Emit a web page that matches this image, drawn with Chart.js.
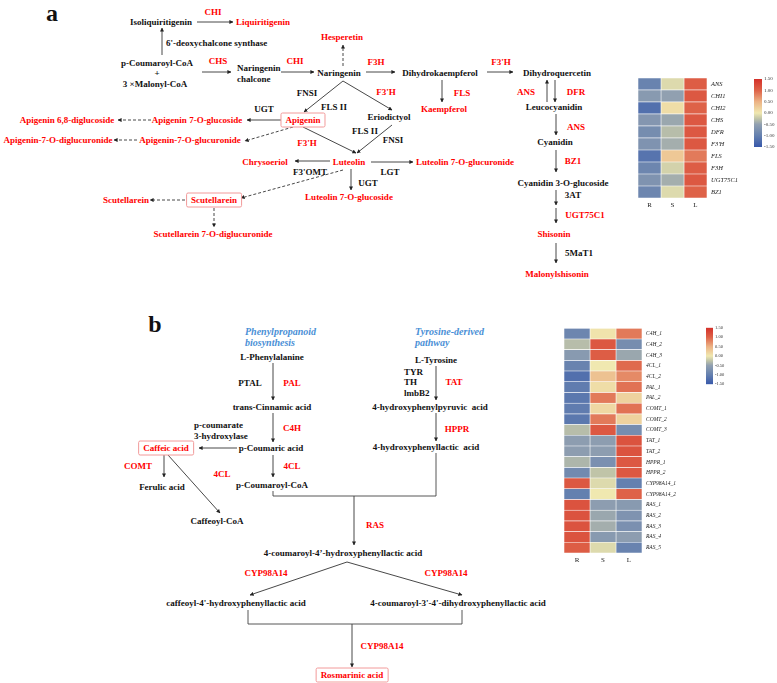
<!DOCTYPE html>
<html>
<head>
<meta charset="utf-8">
<script src="https://cdn.jsdelivr.net/npm/chart.js@4.4.1/dist/chart.umd.min.js"></script>
<style>
html, body { margin: 0; padding: 0; background: #fff; }
#fig { position: relative; width: 777px; height: 683px; overflow: hidden;
       font-family: "Liberation Serif", "Times New Roman", serif; font-weight: bold; font-size: 9px; color: #111; }
.t { position: absolute; white-space: pre; transform: translate(-50%, -50%); line-height: 1; }
.l { transform: translate(0, -50%); }
.r { color: #f00; }
.box { border: 1px solid #f29a9a; border-radius: 2px; padding: 2px 4px; background: #fff; }
.blue { color: #4a8fd6; font-style: italic; font-size: 10px; }
.big { font-size: 24px; line-height: 1; }
canvas { position: absolute; }
svg { position: absolute; left: 0; top: 0; }
</style>
</head>
<body>
<div id="fig">
  <svg id="arrows" width="777" height="683"></svg>
  <canvas id="heatA" width="115" height="142" style="left:638px;top:70px"></canvas>
  <canvas id="barA" width="30" height="78" style="left:754px;top:74px"></canvas>
  <canvas id="heatB" width="125" height="246" style="left:564px;top:321px"></canvas>
  <canvas id="barB" width="28" height="66" style="left:706px;top:323px"></canvas>
</div>
<script>
// colonnes des heatmaps
const sampleCols = ['R', 'S', 'L'];

// heatmap a : genes flavonoides (z-score par ligne)
const genesA = ['ANS', 'CHI1', 'CHI2', 'CHS', 'DFR', "F3'H", 'FLS', 'F3H', 'UGT75C1', 'BZ1'];
const zA_R = [-0.95, -0.6, -1.2, -0.65, -0.8, -0.7, -1.15, -0.9, -0.7, -0.9];
const zA_S = [-0.1, -0.5, 0.1, -0.45, -0.3, -0.4, 0.3, -0.15, -0.4, -0.1];
const zA_L = [1.05, 1.1, 1.0, 1.1, 1.1, 1.1, 0.85, 1.05, 1.1, 1.0];

// heatmap b : voie de l'acide rosmarinique
const genesB = ['C4H_1', 'C4H_2', 'C4H_3', '4CL_1', '4CL_2', 'PAL_1', 'PAL_2', 'COMT_1', 'COMT_2', 'COMT_3',
                'TAT_1', 'TAT_2', 'HPPR_1', 'HPPR_2', 'CYP98A14_1', 'CYP98A14_2',
                'RAS_1', 'RAS_2', 'RAS_3', 'RAS_4', 'RAS_5'];
const zB_R = [-0.9, -0.3, -0.6, -0.95, -1.2, -1.05, -1.1, -1.05, -1.1, -0.3,
              -0.55, -0.55, -0.35, -0.85, 1.1, -1.0, 1.15, 1.15, 1.15, 1.15, 1.05];
const zB_S = [0.05, 1.1, 1.05, 0.0, 0.35, 0.1, 0.85, 0.15, 0.85, 1.1,
              -0.55, -0.55, -0.75, -0.25, -0.1, 0.0, -0.55, -0.45, -0.4, -0.6, -0.1];
const zB_L = [0.85, -0.8, -0.45, 0.95, 0.75, 0.9, 0.2, 0.9, 0.2, -0.8,
              1.15, 1.15, 1.1, 1.1, -1.0, 1.0, -0.6, -0.7, -0.75, -0.55, -0.95];

// echelle de couleur
const barMin = -1.5, barMax = 1.5;
const barTicks = [1.5, 1.0, 0.5, 0.0, -0.5, -1.0, -1.5];

const colorStops = [
  [-1.5, [55, 88, 170]],
  [-1.0, [100, 128, 175]],
  [-0.5, [145, 160, 176]],
  [-0.25, [192, 196, 168]],
  [0.0, [240, 232, 176]],
  [0.5, [236, 178, 132]],
  [1.0, [222, 98, 72]],
  [1.5, [212, 48, 42]]
];

function zColor(z) {
  z = Math.max(barMin, Math.min(barMax, z));
  for (let i = 1; i < colorStops.length; i++) {
    const [z1, c1] = colorStops[i];
    const [z0, c0] = colorStops[i - 1];
    if (z <= z1) {
      const f = (z - z0) / (z1 - z0);
      const c = c0.map((v, k) => Math.round(v + (c1[k] - v) * f));
      return `rgb(${c[0]},${c[1]},${c[2]})`;
    }
  }
  return 'rgb(212,48,42)';
}

// --- textes du schema ---
const texts = [
  ['a', 52, 13, 'big'],
  ['CHI', 213, 12, 'r'],
  ['Isoliquiritigenin', 161, 22, ''],
  ['Liquiritigenin', 263, 22, 'r'],
  ["6'-deoxychalcone synthase", 166, 43, 'l'],
  ['p-Coumaroyl-CoA', 157, 63, ''],
  ['+', 157, 73, ''],
  ['3 ×Malonyl-CoA', 155, 84, ''],
  ['CHS', 218, 61, 'r'],
  ['Naringenin', 237, 68, 'l'],
  ['chalcone', 237, 79, 'l'],
  ['CHI', 295, 61, 'r'],
  ['Naringenin', 339, 73, ''],
  ['Hesperetin', 342, 37, 'r'],
  ['F3H', 376, 62, 'r'],
  ['Dihydrokaempferol', 440, 73, ''],
  ['FLS', 462, 93, 'r'],
  ['Kaempferol', 444, 109, 'r'],
  ["F3'H", 501, 62, 'r'],
  ['Dihydroquercetin', 557, 73, ''],
  ['ANS', 526, 92, 'r'],
  ['DFR', 576, 92, 'r'],
  ['Leucocyanidin', 554, 107, ''],
  ['ANS', 576, 127, 'r'],
  ['Cyanidin', 555, 142, ''],
  ['BZ1', 573, 161, 'r'],
  ['Cyanidin 3-O-glucoside', 563, 183, ''],
  ['3AT', 573, 195, ''],
  ['UGT75C1', 585, 215, 'r'],
  ['Shisonin', 554, 234, 'r'],
  ['5MaT1', 565, 253, 'l'],
  ['Malonylshisonin', 557, 274, 'r'],
  ['FNSI', 307, 93, ''],
  ['FLS II', 334, 107, ''],
  ["F3'H", 386, 92, 'r'],
  ['Eriodictyol', 389, 117, ''],
  ['UGT', 264, 109, ''],
  ['Apigenin', 303, 120, 'r box'],
  ['Apigenin 7-O-glucoside', 197, 120, 'r'],
  ['Apigenin 6,8-diglucoside', 67, 120, 'r'],
  ['Apigenin-7-O-diglucuronide', 58, 140, 'r'],
  ['Apigenin-7-O-glucuronide', 190, 140, 'r'],
  ["F3'H", 307, 143, 'r'],
  ['FLS II', 365, 131, ''],
  ['FNSI', 393, 140, ''],
  ['Luteolin', 349, 162, 'r'],
  ['Chrysoeriol', 265, 162, 'r'],
  ["F3'OMT", 310, 172, ''],
  ['LGT', 390, 172, ''],
  ['Luteolin 7-O-glucuronide', 465, 162, 'r'],
  ['UGT', 368, 183, ''],
  ['Luteolin 7-O-glucoside', 349, 197, 'r'],
  ['Scutellarein', 214, 200, 'r box'],
  ['Scutellarein', 126, 200, 'r'],
  ['Scutellarein 7-O-diglucuronide', 213, 234, 'r'],

  ['b', 155, 324, 'big'],
  ['Phenylpropanoid', 245, 332, 'blue l'],
  ['biosynthesis', 245, 343, 'blue l'],
  ['Tyrosine-derived', 415, 332, 'blue l'],
  ['pathway', 415, 343, 'blue l'],
  ['L-Phenylalanine', 272, 357, ''],
  ['PTAL', 250, 383, ''],
  ['PAL', 292, 383, 'r'],
  ['trans-Cinnamic acid', 272, 407, ''],
  ['C4H', 292, 428, 'r'],
  ['p-coumarate', 194, 425, 'l'],
  ['3-hydroxylase', 194, 436, 'l'],
  ['p-Coumaric acid', 271, 448, ''],
  ['Caffeic acid', 166, 448, 'r box'],
  ['COMT', 138, 466, 'r'],
  ['Ferulic acid', 162, 487, ''],
  ['4CL', 222, 474, 'r'],
  ['4CL', 292, 466, 'r'],
  ['p-Coumaroyl-CoA', 272, 485, ''],
  ['Caffeoyl-CoA', 217, 521, ''],
  ['L-Tyrosine', 436, 360, ''],
  ['TYR', 404, 372, 'l'],
  ['TH', 404, 382, 'l'],
  ['lmbB2', 404, 393, 'l'],
  ['TAT', 454, 382, 'r'],
  ['4-hydroxyphenylpyruvic  acid', 430, 407, ''],
  ['HPPR', 457, 429, 'r'],
  ['4-hydroxyphenyllactic  acid', 426, 447, ''],
  ['RAS', 375, 525, 'r'],
  ['4-coumaroyl-4’-hydroxyphenyllactic acid', 343, 553, ''],
  ['CYP98A14', 266, 573, 'r'],
  ['CYP98A14', 446, 573, 'r'],
  ["caffeoyl-4'-hydroxyphenyllactic acid", 236, 603, ''],
  ["4-coumaroyl-3'-4'-dihydroxyphenyllactic acid", 458, 603, ''],
  ['CYP98A14', 382, 646, 'r'],
  ['Rosmarinic acid', 352, 675, 'r box']
];

const fig = document.getElementById('fig');
texts.forEach(([s, x, y, cls]) => {
  const d = document.createElement('div');
  d.className = 't ' + cls;
  d.textContent = s;
  d.style.left = x + 'px';
  d.style.top = y + 'px';
  fig.appendChild(d);
});

// --- fleches (x1, y1, x2, y2, pointille, tete) ---
const arrows = [
  [197, 22, 233, 22, 0, 1], [162, 55, 162, 28, 0, 1], [202, 72, 231, 72, 0, 1],
  [281, 72, 314, 72, 0, 1], [343, 66, 343, 45, 1, 1], [366, 72, 395, 72, 0, 1],
  [343, 81, 304, 112, 0, 1], [343, 81, 392, 110, 0, 1], [442, 80, 442, 102, 0, 1],
  [487, 72, 513, 72, 0, 1], [547, 102, 547, 80, 0, 1], [555, 80, 555, 102, 0, 1],
  [556, 114, 556, 135, 0, 1], [556, 150, 556, 172, 0, 1], [556, 190, 556, 205, 0, 1],
  [556, 208, 556, 223, 0, 1], [556, 243, 556, 263, 0, 1],
  [282, 120, 247, 120, 0, 1], [151, 120, 118, 120, 1, 1], [293, 127, 245, 141, 1, 1],
  [137, 140, 114, 140, 1, 1], [303, 127, 356, 153, 0, 1], [392, 125, 357, 153, 0, 1],
  [330, 161, 295, 161, 0, 1], [343, 170, 241, 198, 1, 1], [371, 162, 413, 162, 0, 1],
  [351, 169, 351, 190, 0, 1], [185, 200, 150, 200, 1, 1], [214, 208, 214, 227, 1, 1],

  [273, 363, 273, 400, 0, 1], [273, 413, 273, 442, 0, 1], [237, 448, 199, 448, 0, 1],
  [164, 455, 164, 477, 0, 1], [168, 455, 220, 513, 0, 1], [273, 455, 273, 477, 0, 1],
  [436, 366, 436, 400, 0, 1], [436, 413, 436, 441, 0, 1],
  [354, 496, 354, 545, 0, 1], [347, 562, 250, 595, 0, 1], [347, 562, 462, 595, 0, 1],
  [352, 624, 352, 667, 0, 1]
];
const brackets = [
  '273,491 273,496 436,496 436,453',
  '248,610 248,624 462,624 462,610'
];

const svg = document.getElementById('arrows');
let svgHtml = '<defs><marker id="ah" viewBox="0 0 10 10" refX="9" refY="5" markerWidth="4" markerHeight="4" markerUnits="userSpaceOnUse" orient="auto"><path d="M0,0 L10,5 L0,10 z" fill="#222"/></marker></defs>';
arrows.forEach(([x1, y1, x2, y2, dash, head]) => {
  svgHtml += `<line x1="${x1}" y1="${y1}" x2="${x2}" y2="${y2}" stroke="#333" stroke-width="0.9"` +
    (dash ? ' stroke-dasharray="3,2"' : '') + (head ? ' marker-end="url(#ah)"' : '') + '/>';
});
brackets.forEach(p => {
  svgHtml += `<polyline points="${p}" fill="none" stroke="#444" stroke-width="0.9"/>`;
});
svg.innerHTML = svgHtml;

// --- heatmaps Chart.js ---
function heatmap(id, genes, zR, zS, zL, labelWidth, fontSize) {
  const zs = [zR, zS, zL];
  return new Chart(document.getElementById(id), {
    type: 'bar',
    data: {
      labels: genes,
      datasets: zs.map((z, i) => ({
        label: sampleCols[i],
        data: genes.map(() => 1),
        backgroundColor: z.map(zColor),
        borderColor: '#fff',
        borderWidth: 0.6,
        borderSkipped: false,
        barPercentage: 1,
        categoryPercentage: 1
      }))
    },
    options: {
      indexAxis: 'y',
      responsive: false,
      animation: false,
      layout: { padding: 0 },
      plugins: { legend: { display: false }, tooltip: { enabled: false } },
      scales: {
        x: {
          stacked: true, min: 0, max: 3,
          grid: { display: false, drawTicks: false }, border: { display: false },
          afterBuildTicks: s => { s.ticks = [0.5, 1.5, 2.5].map(v => ({ value: v })); },
          afterFit: s => { s.height = 14; },
          ticks: { callback: (v, i) => sampleCols[i], font: { family: 'Liberation Serif', size: 7 },
                   color: '#222', padding: 3, maxRotation: 0, autoSkip: false }
        },
        y: {
          stacked: true, position: 'right',
          grid: { display: false, drawTicks: false }, border: { display: false },
          afterFit: s => { s.width = labelWidth; },
          ticks: { font: { family: 'Liberation Serif', size: fontSize, style: 'italic' },
                   color: '#222', padding: 4, autoSkip: false }
        }
      }
    }
  });
}

function colorbar(id, fontSize, axisWidth) {
  return new Chart(document.getElementById(id), {
    type: 'bar',
    data: {
      labels: [''],
      datasets: [{
        data: [[barMin, barMax]],
        backgroundColor: ctx => {
          const area = ctx.chart.chartArea;
          if (!area) return '#ccc';
          const g = ctx.chart.ctx.createLinearGradient(0, area.bottom, 0, area.top);
          colorStops.forEach(([z, c]) => g.addColorStop((z - barMin) / (barMax - barMin), `rgb(${c[0]},${c[1]},${c[2]})`));
          return g;
        },
        borderWidth: 0,
        barPercentage: 1,
        categoryPercentage: 1
      }]
    },
    options: {
      responsive: false,
      animation: false,
      layout: { padding: { top: 4, bottom: 4 } },
      plugins: { legend: { display: false }, tooltip: { enabled: false } },
      scales: {
        x: { display: false },
        y: {
          position: 'right', min: barMin, max: barMax,
          grid: { display: false, drawTicks: false }, border: { display: false },
          afterBuildTicks: s => { s.ticks = barTicks.map(v => ({ value: v })); },
          afterFit: s => { s.width = axisWidth; },
          ticks: { callback: v => v.toFixed(2), font: { family: 'Liberation Serif', size: fontSize },
                   color: '#333', padding: 2 }
        }
      }
    }
  });
}

heatmap('heatA', genesA, zA_R, zA_S, zA_L, 46, 6.5);
colorbar('barA', 5, 22);
heatmap('heatB', genesB, zB_R, zB_S, zB_L, 47, 5.5);
colorbar('barB', 4.5, 21);
</script>
</body>
</html>
